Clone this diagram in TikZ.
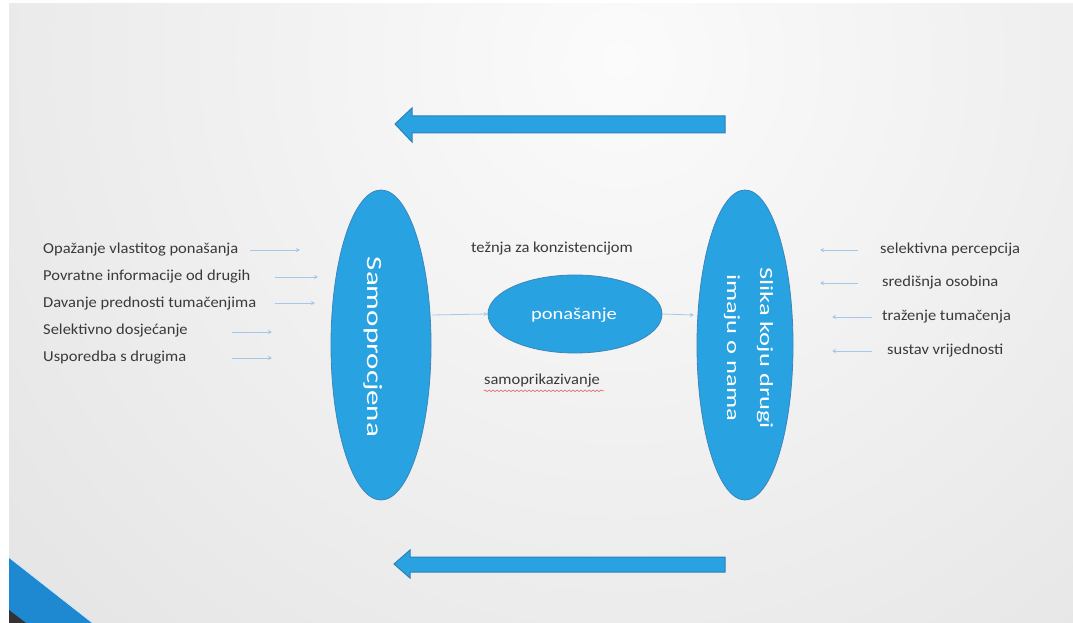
\documentclass[tikz,border=0pt]{standalone}
\usepackage{fontspec}
\setmainfont{Carlito}
\usepackage{graphicx}
\usetikzlibrary{shapes.geometric,arrows.meta,decorations.pathmorphing}
\definecolor{ellfill}{HTML}{29A2E1}
\definecolor{elledge}{HTML}{3B86BC}
\definecolor{blockedge}{HTML}{2F7FB8}
\definecolor{stripe}{HTML}{1E88D0}
\definecolor{arrowc}{HTML}{A6C8E8}
\definecolor{txt}{HTML}{3A3A3A}
\definecolor{bgin}{HTML}{FBFBFB}
\definecolor{bgout}{HTML}{D2D2D2}
\definecolor{wavy}{HTML}{E07070}
\begin{document}
\begin{tikzpicture}[x=1pt,y=-1pt,
  ell/.style={ellipse, fill=ellfill, draw=elledge, line width=0.8, inner sep=0},
  lbl/.style={text=txt, font=\fontsize{16.5}{18}\selectfont, inner sep=0},
  elltext/.style={text=white, inner sep=0},
  thinarrow/.style={draw=arrowc, line width=0.8, -{Stealth[length=4, width=4]}},
  blockarrow/.style={fill=ellfill, draw=blockedge, line width=1}]
\useasboundingbox (0,0) rectangle (1073,623);
\fill[white] (0,0) rectangle (1073,623);
\begin{scope}
\clip (9,4) rectangle (1073,623);
\shade[inner color=bgin, outer color=bgout] (620,60) circle (1500);
\fill[stripe] (9,558) -- (92,623) -- (9,623) -- cycle;
\draw[white!80!stripe, line width=1] (9,557) -- (93,623);
\fill[black!80] (9,610) -- (26,623) -- (9,623) -- cycle;
\end{scope}

% block arrows
\draw[blockarrow] (395,124) -- (412,108) -- (412,116) -- (725,116) -- (725,133) -- (412,133) -- (412,142) -- cycle;
\draw[blockarrow] (394,564) -- (410,550) -- (410,557) -- (725,557) -- (725,572) -- (410,572) -- (410,578) -- cycle;

% ellipses
\node[ell, minimum width=100, minimum height=310] (self) at (381,345) {};
\node[elltext, rotate=-90, font=\fontsize{31}{34}\selectfont] (selft) at (373,347) {\scalebox{1}[0.7]{Samoprocjena}};
\node[ell, minimum width=96, minimum height=310] (other) at (745,345) {};
\node[elltext, rotate=-90, font=\fontsize{26.5}{30}\selectfont] (othert1) at (765,348) {\scalebox{1}[0.7]{Slika koju drugi}};
\node[elltext, rotate=-90, font=\fontsize{26.5}{30}\selectfont] (othert2) at (732,348) {\scalebox{1}[0.7]{imaju o nama}};
\node[ell, minimum width=174, minimum height=78] (pon) at (575,314) {};
\node[elltext, font=\fontsize{20.5}{23}\selectfont] (pont) at (574,315) {\scalebox{1}[0.82]{ponašanje}};

% left list
\node[lbl, anchor=west] (l1) at (43,250) {\scalebox{1}[0.92]{Opažanje vlastitog ponašanja}};
\node[lbl, anchor=west] (l2) at (43,277) {\scalebox{1}[0.92]{Povratne informacije od drugih}};
\node[lbl, anchor=west] (l3) at (43,304) {\scalebox{1}[0.92]{Davanje prednosti tumačenjima}};
\node[lbl, anchor=west] (l4) at (43,331) {\scalebox{1}[0.92]{Selektivno dosjećanje}};
\node[lbl, anchor=west] (l5) at (43,358) {\scalebox{1}[0.92]{Usporedba s drugima}};

% right list
\node[lbl, anchor=west] (r1) at (880,250) {\scalebox{1}[0.92]{selektivna percepcija}};
\node[lbl, anchor=west] (r2) at (882,283) {\scalebox{1}[0.92]{središnja osobina}};
\node[lbl, anchor=west] (r3) at (882,317) {\scalebox{1}[0.92]{traženje tumačenja}};
\node[lbl, anchor=west] (r4) at (887,351) {\scalebox{1}[0.92]{sustav vrijednosti}};

% centre labels
\node[lbl] (tez) at (552,249) {\scalebox{1}[0.92]{težnja za konzistencijom}};
\node[lbl] (samop) at (542,381) {\scalebox{1}[0.92]{samoprikazivanje}};
\draw[wavy, line width=0.7, decorate, decoration={snake, segment length=4, amplitude=0.8}] (samop.south west) ++(0,3) -- ++(120,0);

% left thin arrows
\coordinate (a1s) at (250,250); \coordinate (a1e) at (300,250);
\coordinate (a2s) at (275,277); \coordinate (a2e) at (318,277);
\coordinate (a3s) at (275,303); \coordinate (a3e) at (315,303);
\coordinate (a4s) at (232,332); \coordinate (a4e) at (272,332);
\coordinate (a5s) at (232,358); \coordinate (a5e) at (272,358);
\draw[thinarrow] (a1s) -- (a1e);
\draw[thinarrow] (a2s) -- (a2e);
\draw[thinarrow] (a3s) -- (a3e);
\draw[thinarrow] (a4s) -- (a4e);
\draw[thinarrow] (a5s) -- (a5e);

% right thin arrows
\coordinate (b1s) at (858,250); \coordinate (b1e) at (820,250);
\coordinate (b2s) at (858,283); \coordinate (b2e) at (820,283);
\coordinate (b3s) at (872,317); \coordinate (b3e) at (832,317);
\coordinate (b4s) at (872,351); \coordinate (b4e) at (832,351);
\draw[thinarrow] (b1s) -- (b1e);
\draw[thinarrow] (b2s) -- (b2e);
\draw[thinarrow] (b3s) -- (b3e);
\draw[thinarrow] (b4s) -- (b4e);

% centre arrows
\coordinate (c1) at (432,315);
\coordinate (c2) at (694,315);
\draw[thinarrow] (c1) -- (pon.west);
\draw[thinarrow] (pon.east) -- (c2);
\end{tikzpicture}
\end{document}
